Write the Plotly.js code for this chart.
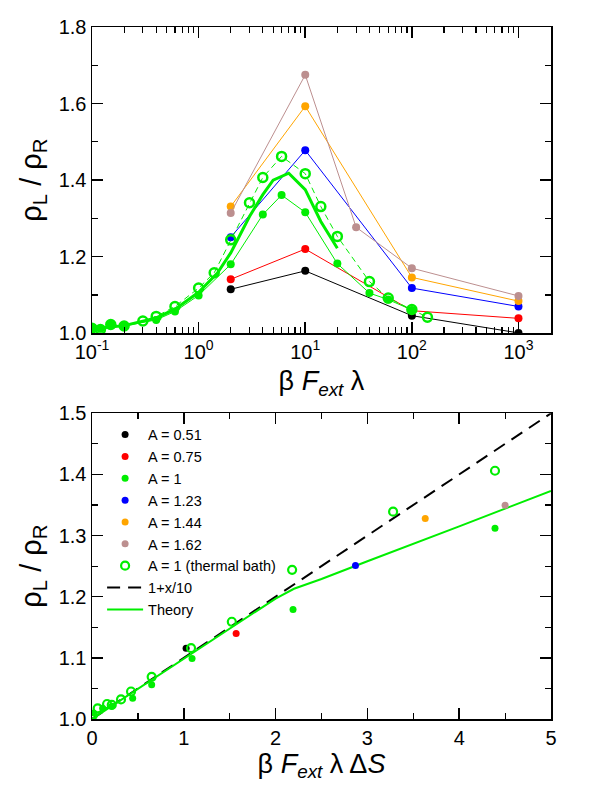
<!DOCTYPE html>
<html>
<head>
<meta charset="utf-8">
<script src="https://cdn.plot.ly/plotly-3.0.1.min.js"></script>
<style>html,body{margin:0;padding:0;background:#fff;}#chart{width:612px;height:792px;}</style>
</head>
<body>
<div id="chart"></div>
<script>
// ---------- top panel data (x = beta F_ext lambda) ----------
var topX = [2, 10, 100, 1000];
var topA051 = [1.115, 1.163, 1.046, 1.001];
var topA075 = [1.141, 1.220, 1.059, 1.039];
var topA123 = [1.251, 1.478, 1.118, 1.070];
var topA144 = [1.331, 1.593, 1.146, 1.084];
var topA162X = [2, 10, 30, 100, 1000];
var topA162 = [1.314, 1.675, 1.277, 1.170, 1.0975];
var topA1X = [0.1, 0.12, 0.15, 0.2, 0.4, 0.6, 1, 2, 4, 6, 10, 20, 40, 60, 100];
var topA1 = [1.013, 1.012, 1.022, 1.019, 1.035, 1.057, 1.099, 1.180, 1.310, 1.361, 1.316, 1.182, 1.105, 1.088, 1.061];
var topBathX = [0.1, 0.12, 0.15, 0.2, 0.3, 0.4, 0.6, 1, 1.4, 2, 3, 4, 6, 10, 14, 20, 40, 60, 100, 140];
var topBath = [1.013, 1.010, 1.023, 1.019, 1.032, 1.044, 1.070, 1.118, 1.158, 1.244, 1.341, 1.407, 1.462, 1.417, 1.331, 1.253, 1.135, 1.092, 1.062, 1.042];
var topTheoryX = [0.1, 0.2, 0.4, 0.6, 1, 1.5, 2, 3, 4, 5, 7, 10, 14, 20];
var topTheory = [1.011, 1.020, 1.040, 1.063, 1.107, 1.157, 1.210, 1.305, 1.362, 1.400, 1.418, 1.375, 1.292, 1.222];
var topTickVals = [0.1, 1, 10, 100, 1000];
var topTickText = ['10<sup>-1</sup>', '10<sup>0</sup>', '10<sup>1</sup>', '10<sup>2</sup>', '10<sup>3</sup>'];

// ---------- bottom panel data (x = beta F_ext lambda DeltaS) ----------
var botA051X = [1.025], botA051 = [1.1155];
var botA075X = [1.57], botA075 = [1.140];
var botA1X = [0.018, 0.116, 0.215, 0.443, 0.65, 1.09, 2.19, 4.39];
var botA1 = [1.010, 1.0175, 1.021, 1.034, 1.056, 1.099, 1.179, 1.312];
var botA123X = [2.87], botA123 = [1.251];
var botA144X = [3.63], botA144 = [1.328];
var botA162X = [4.50], botA162 = [1.3495];
var botBathX = [0.01, 0.062, 0.164, 0.215, 0.316, 0.425, 0.65, 1.079, 1.523, 2.18, 3.28, 4.39];
var botBath = [1.0065, 1.0175, 1.0245, 1.023, 1.032, 1.045, 1.069, 1.116, 1.159, 1.244, 1.339, 1.406];
var lineX = [0, 5], lineY = [1.0, 1.5];
var botTheoryX = [0, 0.5, 1, 1.5, 2, 2.2, 2.5, 3, 3.5, 4, 4.5, 5];
var botTheory = [1.0, 1.049, 1.098, 1.147, 1.197, 1.213, 1.229, 1.258, 1.286, 1.315, 1.344, 1.373];

var C = {k:'#000000', r:'#ff0000', g:'#00ee00', b:'#0000ff', o:'#ffa500', br:'#bc8f8f'};
var FONT = 'Liberation Sans, Arial, Helvetica, sans-serif';

function topTrace(x, y, col, extra) {
  var t = {x:x, y:y, xaxis:'x', yaxis:'y', type:'scatter', mode:'lines+markers', showlegend:false,
    line:{color:col, width:1}, marker:{color:col, size:8, symbol:'circle'}};
  for (var k in extra) t[k] = extra[k];
  return t;
}
function botTrace(x, y, col, name, rank, sym) {
  return {x:x, y:y, xaxis:'x2', yaxis:'y2', type:'scatter', mode:'markers', name:name, legendrank:rank,
    marker: sym === 'open' ? {color:col, size:8, symbol:'circle-open', line:{color:col, width:2.2}} : {color:col, size:7, symbol:'circle'}};
}

var data = [
  topTrace(topX, topA051, C.k),
  topTrace(topX, topA075, C.r),
  topTrace(topX, topA123, C.b),
  topTrace(topX, topA144, C.o),
  topTrace(topA162X, topA162, C.br),
  topTrace(topA1X, topA1, C.g),
  {x:topBathX, y:topBath, xaxis:'x', yaxis:'y', type:'scatter', mode:'lines+markers', showlegend:false,
    line:{color:C.g, width:1, dash:'6px,4px'}, marker:{color:C.g, size:9, symbol:'circle-open', line:{color:C.g, width:2.5}}},
  {x:topTheoryX, y:topTheory, xaxis:'x', yaxis:'y', type:'scatter', mode:'lines', showlegend:false,
    line:{color:C.g, width:3}},
  // bottom
  {x:lineX, y:lineY, xaxis:'x2', yaxis:'y2', type:'scatter', mode:'lines', name:'1+x/10', legendrank:8,
    line:{color:'#000', width:2, dash:'13px,8px'}},
  {x:botTheoryX, y:botTheory, xaxis:'x2', yaxis:'y2', type:'scatter', mode:'lines', name:'Theory', legendrank:9,
    line:{color:C.g, width:2}},
  botTrace(botA051X, botA051, C.k, 'A = 0.51', 1),
  botTrace(botA075X, botA075, C.r, 'A = 0.75', 2),
  botTrace(botA1X, botA1, C.g, 'A = 1', 3),
  botTrace(botA123X, botA123, C.b, 'A = 1.23', 4),
  botTrace(botA144X, botA144, C.o, 'A = 1.44', 5),
  botTrace(botA162X, botA162, C.br, 'A = 1.62', 6),
  botTrace(botBathX, botBath, C.g, 'A = 1 (thermal bath)', 7, 'open')
];

var minorLog = [];
[0.1, 1, 10, 100, 1000].forEach(function(d){ for (var m = 2; m <= 9; m++) minorLog.push(d*m); });

var axBase = {showline:true, linecolor:'#000', linewidth:1.5, mirror:'ticks', ticks:'inside', ticklen:11,
  tickwidth:1.5, tickcolor:'#000', showgrid:false, zeroline:false, fixedrange:true,
  tickfont:{family:FONT, size:20, color:'#000'}};
function ax(extra){ var o = JSON.parse(JSON.stringify(axBase)); for (var k in extra) o[k] = extra[k]; return o; }

var layout = {
  width:612, height:792,
  margin:{l:92, r:61, t:27, b:73},
  paper_bgcolor:'#fff', plot_bgcolor:'#fff',
  font:{family:FONT, color:'#000'},
  xaxis: ax({type:'log', range:[-1, 3.305], tickmode:'array', tickvals:topTickVals, ticktext:topTickText,
    domain:[0,1], anchor:'y',
    minor:{tickmode:'array', tickvals:minorLog, ticks:'inside', ticklen:6, tickwidth:1.2, tickcolor:'#000'},
    title:{text:'β <i>F</i><sub><i>ext</i></sub> λ', font:{family:FONT, size:27, color:'#000'}, standoff:9}}),
  yaxis: ax({range:[1.0, 1.8], dtick:0.2, tick0:1.0, tickformat:'.1f', domain:[0.5574, 1], anchor:'x',
    minor:{dtick:0.1, ticks:'inside', ticklen:6, tickwidth:1.2, tickcolor:'#000'},
    title:{text:'ρ<sub>L</sub> / ρ<sub>R</sub>', font:{family:FONT, size:29, color:'#000'}, standoff:8}}),
  xaxis2: ax({range:[0, 5], dtick:1, tick0:0, domain:[0,1], anchor:'y2',
    minor:{dtick:0.5, ticks:'inside', ticklen:6, tickwidth:1.2, tickcolor:'#000'},
    title:{text:'β <i>F</i><sub><i>ext</i></sub> λ Δ<i>S</i>', font:{family:FONT, size:27, color:'#000'}, standoff:6}}),
  yaxis2: ax({range:[1.0, 1.5], dtick:0.1, tick0:1.0, tickformat:'.1f', domain:[0, 0.4418], anchor:'x2',
    minor:{dtick:0.05, ticks:'inside', ticklen:6, tickwidth:1.2, tickcolor:'#000'},
    title:{text:'ρ<sub>L</sub> / ρ<sub>R</sub>', font:{family:FONT, size:29, color:'#000'}, standoff:8}}),
  showlegend:true,
  legend:{x:0.022, y:0.434, xanchor:'left', yanchor:'top', bgcolor:'rgba(0,0,0,0)', borderwidth:0,
    font:{family:FONT, size:14.5, color:'#000'}, itemwidth:36, tracegroupgap:0}
};

Plotly.newPlot('chart', data, layout, {staticPlot:true, displayModeBar:false});
</script>
</body>
</html>
